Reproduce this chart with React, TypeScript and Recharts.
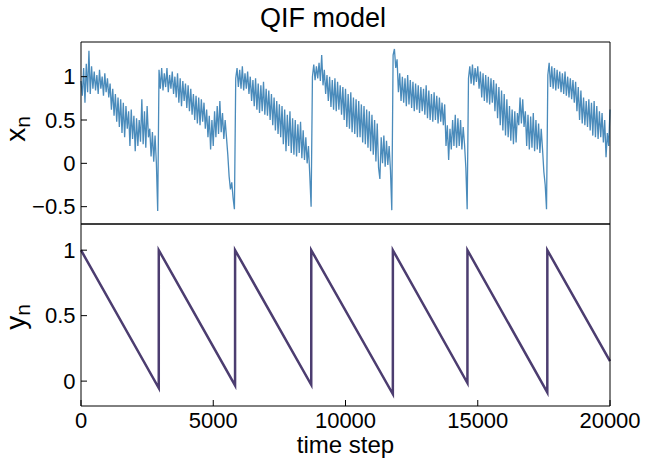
import React from 'react';
import { LineChart, Line, XAxis, YAxis } from 'recharts';

// ---------- data ----------
const X_STEP = 50; // sampling step of the x_n series (time steps)

// x_n, sampled every 50 time steps, one array per firing cycle
const xCycle1 = [
  0.95, 0.78, 1.1, 0.7, 1.15, 0.82, 1.3, 0.8, 1.12, 0.86,
  1.06, 0.84, 1.02, 0.8, 1.08, 0.86, 1.0, 0.78, 1.04, 0.82,
  0.98, 0.76, 0.92, 0.62, 0.86, 0.55, 0.8, 0.48, 0.76, 0.42,
  0.74, 0.35, 0.7, 0.3, 0.66, 0.4, 0.6, 0.2, 0.62, 0.28,
  0.55, 0.14, 0.52, 0.2, 0.5, 0.25, 0.74, 0.22, 0.6, 0.18,
  0.66, 0.3, 0.4, 0.08, 0.36, 0.02, 0.32, 0.0, -0.55,
];
const xCycle2 = [
  1.08, 0.86, 1.1, 0.84, 1.04, 0.88, 1.1, 0.82, 1.02, 0.86,
  1.06, 0.8, 1.0, 0.76, 1.04, 0.7, 0.98, 0.66, 0.95, 0.72,
  0.92, 0.64, 0.9, 0.6, 0.86, 0.56, 0.8, 0.5, 0.78, 0.46,
  0.76, 0.44, 0.74, 0.48, 0.7, 0.4, 0.62, 0.3, 0.55, 0.16,
  0.5, 0.2, 0.6, 0.3, 0.66, 0.34, 0.72, 0.36, 0.58, 0.28,
  0.5, 0.3, 0.1, -0.15, -0.3, -0.22, -0.4, -0.53,
];
const xCycle3 = [
  0.98, 1.1, 0.88, 1.08, 0.86, 1.12, 0.84, 1.04, 0.86, 1.06,
  0.8, 1.0, 0.72, 0.96, 0.66, 0.98, 0.62, 0.92, 0.58, 0.9,
  0.6, 0.94, 0.56, 0.86, 0.55, 0.84, 0.5, 0.8, 0.44, 0.76,
  0.38, 0.72, 0.34, 0.68, 0.3, 0.66, 0.22, 0.62, 0.14, 0.56,
  0.2, 0.6, 0.12, 0.52, 0.1, 0.5, 0.08, 0.45, 0.12, 0.48,
  0.06, 0.38, 0.04, 0.3, 0.0, 0.2, -0.14, -0.5,
];
const xCycle4 = [
  1.0, 1.14, 0.96, 1.12, 0.98, 1.16, 0.95, 1.25, 0.9, 1.08,
  0.8, 1.02, 0.72, 1.0, 0.65, 0.96, 0.62, 0.98, 0.6, 0.94,
  0.62, 0.9, 0.56, 0.88, 0.5, 0.86, 0.42, 0.8, 0.4, 0.82,
  0.36, 0.76, 0.34, 0.74, 0.3, 0.72, 0.3, 0.68, 0.24, 0.66,
  0.22, 0.62, 0.18, 0.6, 0.14, 0.56, 0.1, 0.5, 0.02, 0.46,
  -0.05, -0.18, 0.3, 0.0, 0.32, -0.04, 0.26, -0.02, 0.2, -0.08,
  -0.54,
];
const xCycle5 = [
  1.25, 1.32, 1.1, 1.2, 0.82, 1.04, 0.72, 1.0, 0.7, 0.98,
  0.66, 1.02, 0.68, 0.96, 0.64, 0.94, 0.6, 0.92, 0.62, 0.9,
  0.58, 0.88, 0.6, 0.86, 0.56, 0.9, 0.52, 0.84, 0.5, 0.8,
  0.48, 0.82, 0.5, 0.78, 0.46, 0.76, 0.48, 0.7, 0.44, 0.68,
  0.2, 0.44, 0.04, 0.4, 0.16, 0.5, 0.2, 0.56, 0.18, 0.52,
  0.2, 0.5, 0.16, 0.42, 0.22, -0.05, -0.53,
];
const xCycle6 = [
  0.98, 1.12, 0.92, 1.14, 0.9, 1.1, 0.94, 1.12, 0.86, 1.06,
  0.76, 1.04, 0.72, 1.02, 0.7, 1.0, 0.68, 0.98, 0.7, 0.96,
  0.6, 0.92, 0.52, 0.88, 0.44, 0.84, 0.38, 0.8, 0.32, 0.74,
  0.3, 0.66, 0.26, 0.62, 0.22, 0.6, 0.24, 0.58, 0.44, 0.76,
  0.46, 0.74, 0.42, 0.6, 0.2, 0.56, 0.16, 0.54, 0.18, 0.58,
  0.14, 0.5, 0.16, 0.46, 0.12, 0.4, 0.16, -0.1, -0.25, -0.53,
];
const xCycle7 = [
  1.02, 1.16, 0.88, 1.12, 0.86, 1.1, 0.84, 1.08, 0.86, 1.06,
  0.82, 1.04, 0.8, 1.06, 0.78, 1.0, 0.76, 0.98, 0.74, 0.96,
  0.7, 0.94, 0.6, 0.88, 0.5, 0.84, 0.46, 0.76, 0.44, 0.72,
  0.42, 0.74, 0.38, 0.7, 0.32, 0.72, 0.3, 0.66, 0.28, 0.6,
  0.3, 0.58, 0.24, 0.5, 0.07, 0.35, 0.2, 0.62,
];
const xValues = [
  ...xCycle1, ...xCycle2, ...xCycle3, ...xCycle4, ...xCycle5, ...xCycle6, ...xCycle7,
];

// y_n: vertices of the sawtooth (time step, value)
const yTimes = [0, 2940, 2941, 5825, 5826, 8705, 8706, 11790, 11791, 14610, 14611, 17630, 17631, 20000];
const yValues = [1, -0.053, 1, -0.033, 1, -0.028, 1, -0.099, 1, -0.015, 1, -0.086, 1, 0.152];

const xTicks = [0, 5000, 10000, 15000, 20000];
const topTicks = [-0.5, 0, 0.5, 1];
const bottomTicks = [0, 0.5, 1];

const xData = xValues.map((v, i) => ({ t: i * X_STEP, x: v }));
const yData = yTimes.map((t, i) => ({ t, y: yValues[i] }));

// ---------- style ----------
const FONT = '"Liberation Sans", Arial, Helvetica, sans-serif';
const TICK_FS = 22;
const tickStyle = { fill: '#000', fontSize: TICK_FS, fontFamily: FONT };
const axisLine = { stroke: '#000', strokeWidth: 1 };
const tickLineStyle = { stroke: '#000', strokeWidth: 1 };
const fmt = (v: number) => String(v).replace('-', '\u2212');

function YLabel(props: any) {
  const vb = props.viewBox || { x: 0, y: 0, width: 81, height: 182 };
  const cx = vb.x + 25;
  const cy = vb.y + vb.height / 2 + (props.shift || 0);
  return (
    <text
      transform={`translate(${cx},${cy}) rotate(-90)`}
      textAnchor="middle"
      fontFamily={FONT}
      fontSize={28}
      fill="#000"
    >
      {props.main}
      <tspan fontSize={21} dy={5}>{props.sub}</tspan>
    </text>
  );
}

export default function App() {
  return (
    <div style={{ position: 'absolute', left: 0, top: 0, width: 646, height: 464, background: '#fff' }}>
      <svg style={{ position: 'absolute', left: 0, top: 0 }} width={646} height={40}>
        <text x={323} y={27} textAnchor="middle" fontFamily={FONT} fontSize={27} fill="#000">
          QIF model
        </text>
      </svg>

      <div style={{ position: 'absolute', left: 0, top: 0 }}>
        <LineChart width={646} height={225} data={xData} margin={{ top: 41, right: 35, bottom: 0, left: 0 }}>
          <XAxis
            xAxisId="b"
            dataKey="t"
            type="number"
            domain={[0, 20000]}
            ticks={xTicks}
            height={1}
            tick={false}
            tickLine={false}
            axisLine={axisLine}
          />
          <XAxis
            xAxisId="t"
            orientation="top"
            dataKey="t"
            type="number"
            domain={[0, 20000]}
            height={1}
            tick={false}
            tickLine={false}
            axisLine={axisLine}
          />
          <YAxis
            yAxisId="l"
            width={81}
            type="number"
            domain={[-0.7, 1.4]}
            ticks={topTicks}
            interval={0}
            tickSize={-6}
            tickMargin={11.5}
            tick={tickStyle}
            tickLine={tickLineStyle}
            axisLine={axisLine}
            tickFormatter={fmt}
            label={(p: any) => <YLabel {...p} main="x" sub="n" shift={-4} />}
          />
          <YAxis
            yAxisId="r"
            orientation="right"
            width={1}
            type="number"
            domain={[-0.7, 1.4]}
            ticks={topTicks}
            interval={0}
            tickSize={-6}
            tick={false}
            tickLine={tickLineStyle}
            axisLine={axisLine}
          />
          <Line
            xAxisId="b"
            yAxisId="l"
            type="linear"
            dataKey="x"
            stroke="#4a8bbb"
            strokeWidth={1.3}
            dot={false}
            isAnimationActive={false}
          />
        </LineChart>
      </div>

      <div style={{ position: 'absolute', left: 0, top: 214 }}>
        <LineChart width={646} height={250} data={yData} margin={{ top: 9, right: 35, bottom: 8, left: 0 }}>
          <XAxis
            xAxisId="b"
            dataKey="t"
            type="number"
            domain={[0, 20000]}
            ticks={xTicks}
            interval={0}
            height={50}
            tickSize={-6}
            tickMargin={12}
            tick={tickStyle}
            tickLine={tickLineStyle}
            axisLine={axisLine}
            label={{ value: 'time step', position: 'insideBottom', offset: 3, fill: '#000', fontSize: 24, fontFamily: FONT }}
          />
          <XAxis
            xAxisId="t"
            orientation="top"
            dataKey="t"
            type="number"
            domain={[0, 20000]}
            height={1}
            tick={false}
            tickLine={false}
            axisLine={axisLine}
          />
          <YAxis
            yAxisId="l"
            width={81}
            type="number"
            domain={[-0.19, 1.2]}
            ticks={bottomTicks}
            interval={0}
            tickSize={-6}
            tickMargin={11.5}
            tick={tickStyle}
            tickLine={tickLineStyle}
            axisLine={axisLine}
            tickFormatter={fmt}
            label={(p: any) => <YLabel {...p} main="y" sub="n" shift={2} />}
          />
          <YAxis
            yAxisId="r"
            orientation="right"
            width={1}
            type="number"
            domain={[-0.19, 1.2]}
            ticks={bottomTicks}
            interval={0}
            tickSize={-6}
            tick={false}
            tickLine={tickLineStyle}
            axisLine={axisLine}
          />
          <Line
            xAxisId="b"
            yAxisId="l"
            type="linear"
            dataKey="y"
            stroke="#4c3d70"
            strokeWidth={2.5}
            dot={false}
            isAnimationActive={false}
          />
        </LineChart>
      </div>
    </div>
  );
}
